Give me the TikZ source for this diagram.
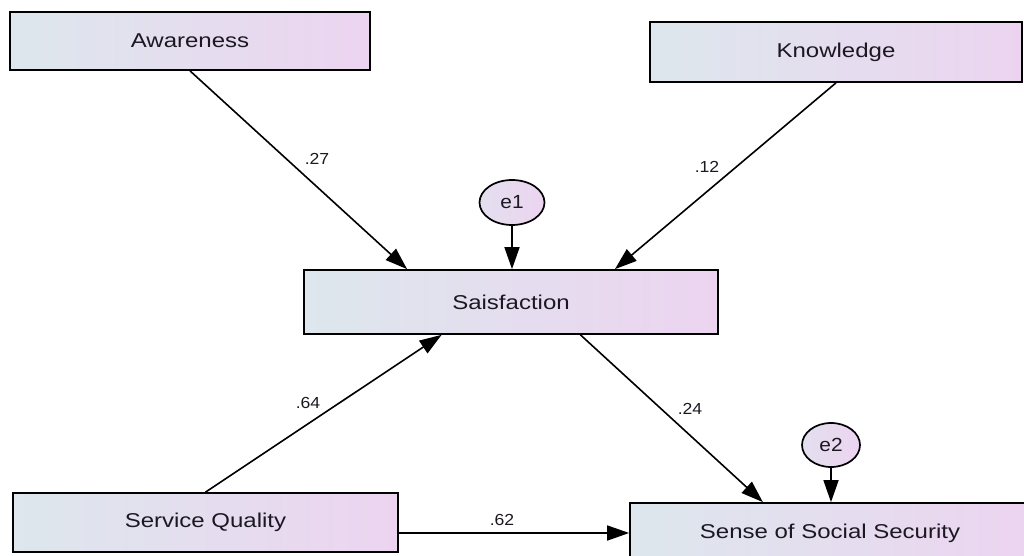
\documentclass[tikz,border=0pt]{standalone}
\usepackage{graphicx}
\usepackage{fontspec}
\setmainfont{Liberation Sans}
\usetikzlibrary{arrows.meta,shapes.geometric,calc}

\definecolor{boxleft}{RGB}{221,231,237}
\definecolor{boxright}{RGB}{236,212,240}
\definecolor{inktext}{RGB}{28,24,34}

% wide sans text, as set by the path-diagram tool
\newcommand{\widetext}[1]{\scalebox{1.2}[1]{#1}}
\newcommand{\coef}[1]{\scalebox{1.1}[1]{#1}}

\tikzset{
  varbox/.style={draw=black, line width=1.7pt, rectangle, inner sep=0pt,
    left color=boxleft, right color=boxright, text=inktext,
    font=\fontsize{20}{24}\selectfont},
  errvar/.style={draw=black, line width=1.7pt, ellipse, inner sep=0pt,
    left color=boxleft!60!boxright, right color=boxright, text=inktext,
    font=\fontsize{19}{22}\selectfont},
  path arrow/.style={line width=1.6pt, draw=black,
    -{Triangle[length=22pt,width=15pt]}},
  weight/.style={text=inktext, font=\fontsize{16}{19}\selectfont, inner sep=0pt}
}

\begin{document}
\begin{tikzpicture}[x=1pt, y=-1pt]
  \clip (0,0) rectangle (1024,556);
  \fill[white] (0,0) rectangle (1024,556);

  % observed variables
  \node[varbox, minimum width=360pt, minimum height=58pt] (aw) at (190,41) {\widetext{Awareness}};
  \node[varbox, minimum width=372pt, minimum height=60pt] (kn) at (836,52) {\widetext{Knowledge}};
  \node[varbox, minimum width=414pt, minimum height=64pt] (sat) at (511,302) {\widetext{Saisfaction}};
  \node[varbox, minimum width=385pt, minimum height=59pt] (sq) at (205.5,522.5) {\widetext{Service Quality}};
  \node[varbox, minimum width=400pt, minimum height=60pt] (ss) at (830,533) {\widetext{Sense of Social Security}};

  % error terms
  \node[errvar, minimum width=65pt, minimum height=45pt] (e1) at (512,202.5) {\coef{e1}};
  \node[errvar, minimum width=58pt, minimum height=44pt] (e2) at (831,445) {\coef{e2}};

  % regression paths
  \draw[path arrow] (aw.south) -- ($(sat.north west)!0.25!(sat.north east)$);
  \draw[path arrow] (kn.south) -- ($(sat.north west)!0.75!(sat.north east)$);
  \draw[path arrow] (e1.south) -- (e1.south |- sat.north);
  \draw[path arrow] (sq.north) -- ($(sat.south west)!0.333!(sat.south east)$);
  \draw[path arrow] ($(sat.south west)!0.667!(sat.south east)$) -- ($(ss.north west)!0.333!(ss.north east)$);
  \draw[path arrow] (e2.south) -- (e2.south |- ss.north);
  \draw[path arrow] (sq.east |- ss.west) -- (ss.west);

  % standardized weights
  \node[weight] (w27) at (317,159) {\coef{.27}};
  \node[weight] (w12) at (707,167) {\coef{.12}};
  \node[weight] (w64) at (308,403) {\coef{.64}};
  \node[weight] (w24) at (690,409) {\coef{.24}};
  \node[weight] (w62) at (502,520) {\coef{.62}};
\end{tikzpicture}
\end{document}
